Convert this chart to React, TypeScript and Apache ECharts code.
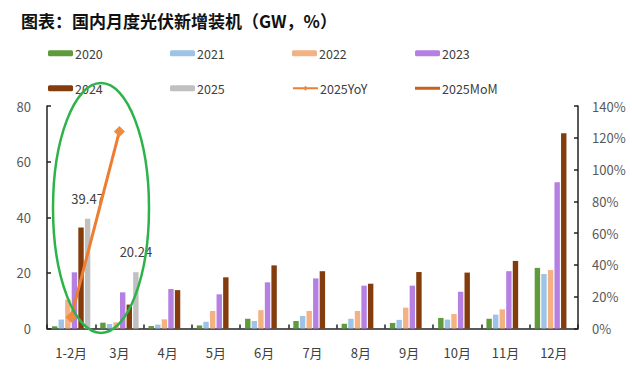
import React, { useEffect, useRef } from "react";
import * as echarts from "echarts";

const categories = ["1-2月", "3月", "4月", "5月", "6月", "7月", "8月", "9月", "10月", "11月", "12月"];
const y2020 = [0.8, 2.1, 0.9, 1.1, 3.5, 2.7, 1.7, 2.0, 3.8, 3.5, 21.8];
const y2021 = [3.2, 1.6, 1.4, 2.4, 2.7, 4.5, 3.5, 3.1, 3.2, 5.0, 19.6];
const y2022 = [10.4, 2.2, 3.3, 6.3, 6.6, 6.3, 6.3, 7.5, 5.2, 6.9, 21.0];
const y2023 = [20.2, 13.0, 14.2, 12.3, 16.6, 18.0, 15.4, 15.4, 13.2, 20.6, 52.6];
const y2024 = [36.3, 8.6, 13.8, 18.4, 22.7, 20.6, 16.1, 20.3, 20.1, 24.3, 70.2];
const y2025 = [39.47, 20.24, null, null, null, null, null, null, null, null, null];
const yoy2025 = [7.1, 124.0, null, null, null, null, null, null, null, null, null];
const mom2025: (number | null)[] = [];
const leftTicks = { min: 0, max: 80, interval: 20 };
const rightTicks = { min: 0, max: 140, interval: 20 };

const FONT = "'Noto Sans CJK SC', 'Noto Sans', sans-serif";
const TXT = "#404040";

export default function App() {
  const ref = useRef<HTMLDivElement>(null);
  useEffect(() => {
    const chart = echarts.init(ref.current!, null, { renderer: "svg" });
    const barNames = ["2020", "2021", "2022", "2023", "2024", "2025"];
    const barData = [y2020, y2021, y2022, y2023, y2024, y2025];
    const barColors = ["#5f9a3d", "#9dc3e6", "#f4b183", "#b580e2", "#843c0c", "#c0c0c0"];
    const series: any[] = barNames.map((n, i) => ({
      name: n,
      type: "bar",
      data: barData[i],
      barWidth: 5.4,
      barGap: "22%",
      itemStyle: { color: barColors[i] },
      label:
        n === "2025"
          ? {
              show: true,
              position: "top",
              distance: 14,
              fontSize: 13,
              color: TXT,
              fontFamily: FONT,
            }
          : { show: false },
    }));
    series.push({
      name: "2025YoY",
      type: "line",
      yAxisIndex: 1,
      data: yoy2025,
      symbol: "diamond",
      symbolSize: 11,
      lineStyle: { color: "#ed7d31", width: 3 },
      itemStyle: { color: "#f08a3c" },
      z: 5,
    });
    series.push({
      name: "2025MoM",
      type: "line",
      yAxisIndex: 1,
      data: mom2025,
      symbol: "none",
      lineStyle: { color: "#c8611c", width: 3 },
      itemStyle: { color: "#c8611c" },
    });

    const legendPos: [string, number, number][] = [
      ["2020", 43, 42],
      ["2021", 165, 42],
      ["2022", 287, 42],
      ["2023", 410, 42],
      ["2024", 43, 77],
      ["2025", 165, 77],
      ["2025YoY", 287, 77],
      ["2025MoM", 410, 77],
    ];

    chart.setOption({
      animation: false,
      textStyle: { fontFamily: FONT },
      title: {
        text: "图表：国内月度光伏新增装机（GW，%）",
        left: 16,
        top: 7,
        textStyle: { fontSize: 17, fontWeight: "bold", color: "#111", fontFamily: FONT },
      },
      legend: legendPos.map(([n, l, t]) => ({
        data: [n === "2025MoM" ? { name: n, icon: "rect" } : n],
        left: l,
        top: t,
        itemWidth: 25,
        itemHeight: n === "2025MoM" ? 3 : 6,
        itemGap: 4,
        selectedMode: false,
        textStyle: { fontSize: 12.5, color: TXT, fontFamily: FONT, padding: [0, 0, 0, -3] },
      })),
      grid: { left: 47, right: 54, top: 106, bottom: 51.5 },
      xAxis: {
        type: "category",
        data: categories,
        axisLine: { lineStyle: { color: "#222", width: 1.5 } },
        axisTick: { show: true, inside: true, length: 4, lineStyle: { color: "#222", width: 1.5 } },
        axisLabel: { fontSize: 13, color: TXT, margin: 17, fontFamily: FONT },
      },
      yAxis: [
        {
          type: "value",
          ...leftTicks,
          axisLine: { show: true, lineStyle: { color: "#222", width: 1.5 } },
          axisTick: { show: true, inside: true, length: 4, lineStyle: { color: "#222", width: 1.5 } },
          splitLine: { show: false },
          axisLabel: { fontSize: 13, color: "#595959", margin: 16, fontFamily: FONT },
        },
        {
          type: "value",
          ...rightTicks,
          axisLine: { show: true, lineStyle: { color: "#222", width: 1.5 } },
          axisTick: { show: true, inside: true, length: 4, lineStyle: { color: "#222", width: 1.5 } },
          splitLine: { show: false },
          axisLabel: { fontSize: 13, color: "#595959", margin: 14, formatter: "{value}%", fontFamily: FONT },
        },
      ],
      series,
      graphic: [
        {
          type: "ellipse",
          shape: { cx: 101, cy: 208, rx: 48, ry: 125 },
          style: { fill: "none", stroke: "#2db34a", lineWidth: 2.5 },
          z: 100,
        },
      ],
    });
    return () => chart.dispose();
  }, []);
  return <div ref={ref} style={{ width: 632, height: 380, position: "absolute", left: 0, top: 0, background: "#fff" }} />;
}
